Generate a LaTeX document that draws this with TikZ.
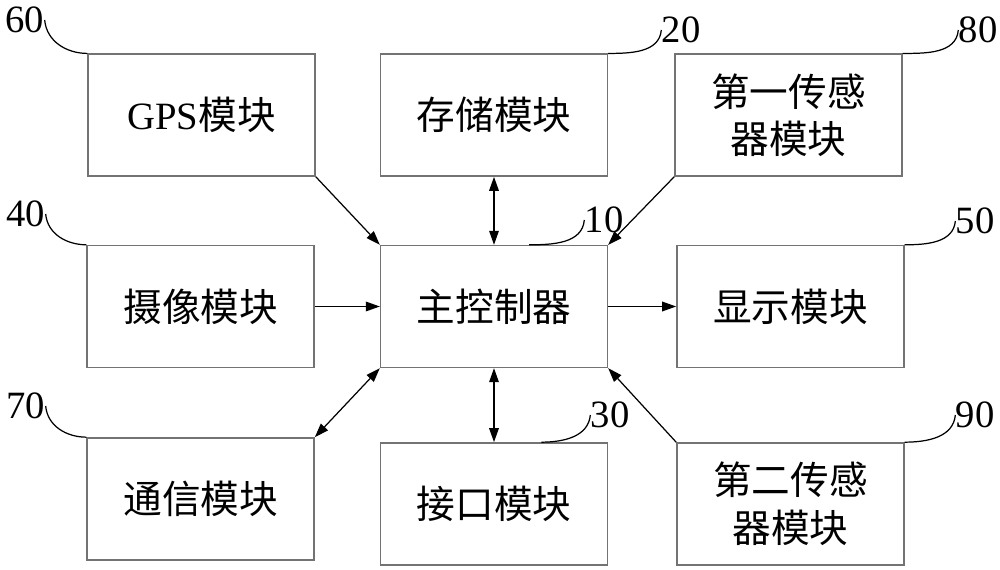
\documentclass[tikz,border=0pt]{standalone}
\usepackage{fontspec}
\setmainfont{Liberation Serif}
\newfontfamily\cjk{Noto Sans CJK SC}
\usetikzlibrary{positioning,arrows.meta}

\begin{document}
\begin{tikzpicture}[x=0.02cm,y=-0.02cm,
modbox/.style={
  draw=black!55,
  line width=0.8pt,
  minimum width=4.54cm,
  minimum height=2.44cm,
  inner sep=0pt,
  align=center,
  font={\cjk\fontsize{22}{27}\selectfont}},
num/.style={inner sep=0pt,font={\fontsize{22}{22}\selectfont}},
lead/.style={line width=0.7pt},
arr/.style={-{Triangle[length=8pt,width=5.5pt]},line width=0.7pt},
biarr/.style={{Triangle[length=8pt,width=5.5pt]}-{Triangle[length=8pt,width=5.5pt]},line width=0.7pt},
]
\useasboundingbox (0,0) rectangle (1000,570);
\node[modbox] (Main) at (494,306.5) {主控制器};
\node[modbox,above=1.36cm of Main] (Sto) {存储模块};
\node[modbox,left=1.28cm of Sto] (GPS) {{\rmfamily GPS}模块};
\node[modbox,right=1.32cm of Sto] (SenA) {第一传感\\器模块};
\node[modbox,left=1.3cm of Main] (Cam) {摄像模块};
\node[modbox,right=1.36cm of Main] (Dis) {显示模块};
\node[modbox,below=1.48cm of Main] (Int) {接口模块};
\node[modbox,below=1.38cm of Cam] (Com) {通信模块};
\node[modbox,right=1.36cm of Int] (SenB) {第二传感\\器模块};

\node[num] (n60) at (25,20) {60};
\node[num] (n40) at (26,214) {40};
\node[num] (n70) at (26,406) {70};
\node[num] (n20) at (681,30) {20};
\node[num] (n80) at (978,30) {80};
\node[num] (n10) at (604,220) {10};
\node[num] (n50) at (975,221) {50};
\node[num] (n30) at (610,415) {30};
\node[num] (n90) at (975,415) {90};

\draw[lead] (n60.east) to[out=-85,in=180] (GPS.north west);
\draw[lead] (n40.east) to[out=-85,in=180] (Cam.north west);
\draw[lead] (n70.east) to[out=-85,in=180] (Com.north west);
\draw[lead] (Sto.north east) to[out=0,in=-95] (n20.west);
\draw[lead] (SenA.north east) to[out=0,in=-95] (n80.west);
\draw[lead] ([xshift=-45pt]Main.north east) to[out=0,in=-95] (n10.west);
\draw[lead] (Dis.north east) to[out=0,in=-95] (n50.west);
\draw[lead] ([xshift=-38pt]Int.north east) to[out=0,in=-95] (n30.west);
\draw[lead] (SenB.north east) to[out=0,in=-95] (n90.west);

\draw[arr] (GPS.south east) -- (Main.north west);
\draw[biarr] (Sto) -- (Main);
\draw[arr] (SenA.south west) -- (Main.north east);
\draw[arr] (Cam) -- (Main);
\draw[arr] (Main) -- (Dis);
\draw[biarr] (Main.south west) -- (Com.north east);
\draw[biarr] (Main) -- (Int);
\draw[arr] (SenB.north west) -- (Main.south east);
\end{tikzpicture}
\end{document}
